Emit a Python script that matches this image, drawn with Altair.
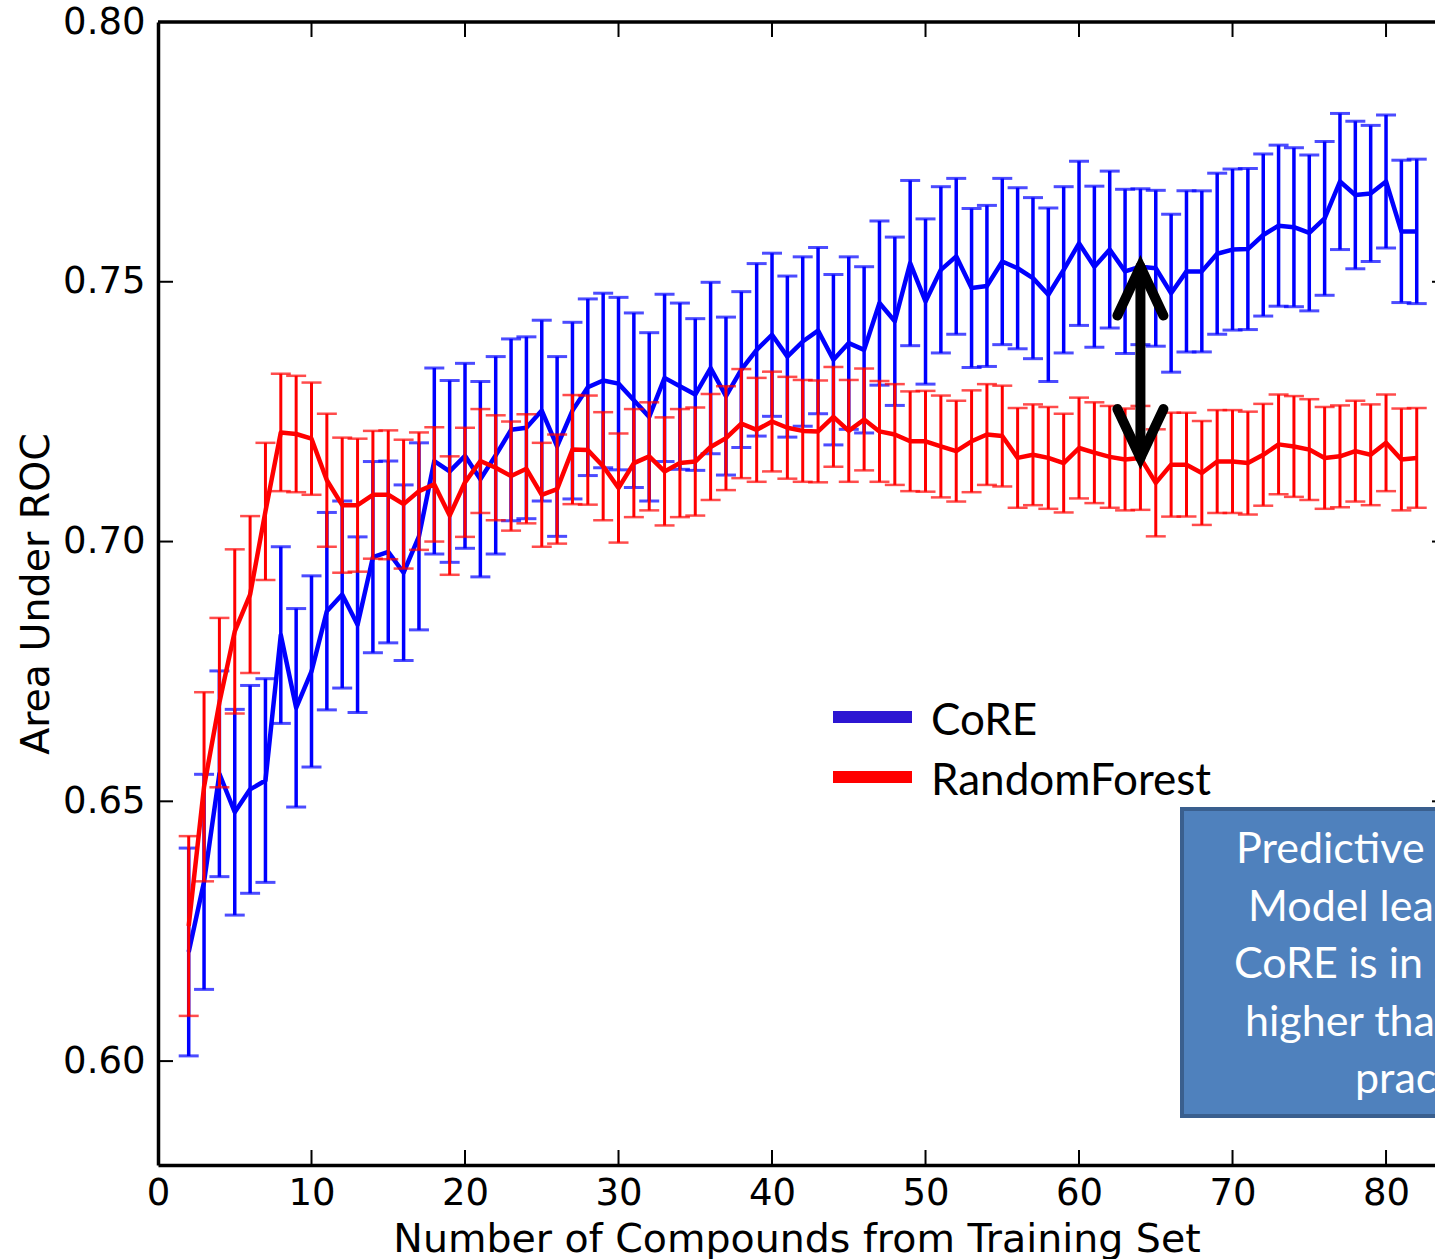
import altair as alt
import pandas as pd

# ---- data -------------------------------------------------------------
n_compounds = list(range(2, 83))

core_auc = [
    0.6210, 0.6345, 0.6553, 0.6479, 0.6523, 0.6540, 0.6820, 0.6680, 0.6750, 0.6866,
    0.6898, 0.6840, 0.6970, 0.6980, 0.6940, 0.7010, 0.7155, 0.7135, 0.7165, 0.7120,
    0.7166, 0.7215, 0.7219, 0.7252, 0.7183, 0.7252, 0.7297, 0.7310, 0.7304, 0.7272,
    0.7240, 0.7315, 0.7299, 0.7283, 0.7334, 0.7280, 0.7331, 0.7369, 0.7398, 0.7356,
    0.7385, 0.7406, 0.7350, 0.7382, 0.7369, 0.7459, 0.7424, 0.7536, 0.7462, 0.7523,
    0.7549, 0.7488, 0.7492, 0.7539, 0.7526, 0.7507, 0.7475, 0.7523, 0.7574, 0.7529,
    0.7562, 0.7520, 0.7529, 0.7526, 0.7478, 0.7520, 0.7520, 0.7554, 0.7562, 0.7563,
    0.7590, 0.7608, 0.7605, 0.7594, 0.7622, 0.7693, 0.7667, 0.7670, 0.7693, 0.7597,
    0.7597,
]
core_err = [
    0.0200, 0.0207, 0.0198, 0.0198, 0.0200, 0.0196, 0.0170, 0.0191, 0.0184, 0.0190,
    0.0180, 0.0169, 0.0184, 0.0175, 0.0169, 0.0180, 0.0179, 0.0175, 0.0178, 0.0188,
    0.0190, 0.0175, 0.0175, 0.0174, 0.0173, 0.0170, 0.0170, 0.0168, 0.0166, 0.0168,
    0.0162, 0.0161, 0.0160, 0.0146, 0.0165, 0.0152, 0.0150, 0.0166, 0.0157, 0.0155,
    0.0163, 0.0160, 0.0164, 0.0166, 0.0160, 0.0158, 0.0162, 0.0159, 0.0159, 0.0160,
    0.0150, 0.0153, 0.0155, 0.0160, 0.0155, 0.0155, 0.0167, 0.0160, 0.0158, 0.0155,
    0.0151, 0.0158, 0.0150, 0.0150, 0.0152, 0.0155, 0.0155, 0.0155, 0.0155, 0.0155,
    0.0156, 0.0155, 0.0153, 0.0150, 0.0148, 0.0131, 0.0142, 0.0131, 0.0128, 0.0137,
    0.0139,
]
rf_auc = [
    0.6260, 0.6528, 0.6690, 0.6827, 0.6898, 0.7058, 0.7210, 0.7207, 0.7198, 0.7118,
    0.7070, 0.7070, 0.7090, 0.7090, 0.7072, 0.7097, 0.7110, 0.7050, 0.7114, 0.7155,
    0.7142, 0.7126, 0.7140, 0.7090, 0.7101, 0.7177, 0.7176, 0.7145, 0.7103, 0.7151,
    0.7164, 0.7135, 0.7151, 0.7154, 0.7182, 0.7199, 0.7227, 0.7215, 0.7231, 0.7219,
    0.7213, 0.7212, 0.7240, 0.7213, 0.7235, 0.7212, 0.7206, 0.7193, 0.7193, 0.7183,
    0.7174, 0.7193, 0.7206, 0.7203, 0.7161, 0.7167, 0.7161, 0.7151, 0.7180, 0.7171,
    0.7163, 0.7158, 0.7161, 0.7113, 0.7148, 0.7148, 0.7132, 0.7154, 0.7154, 0.7151,
    0.7167, 0.7187, 0.7183, 0.7177, 0.7161, 0.7164, 0.7174, 0.7167, 0.7190, 0.7158,
    0.7161,
]
rf_err = [
    0.0173, 0.0182, 0.0163, 0.0158, 0.0151, 0.0132, 0.0113, 0.0112, 0.0108, 0.0128,
    0.0130, 0.0128, 0.0123, 0.0124, 0.0124, 0.0113, 0.0110, 0.0114, 0.0105, 0.0100,
    0.0101, 0.0105, 0.0105, 0.0100, 0.0105, 0.0105, 0.0105, 0.0104, 0.0105, 0.0104,
    0.0104, 0.0104, 0.0104, 0.0104, 0.0102, 0.0100, 0.0105, 0.0100, 0.0096, 0.0098,
    0.0098, 0.0098, 0.0096, 0.0098, 0.0098, 0.0097, 0.0097, 0.0096, 0.0097, 0.0098,
    0.0097, 0.0098, 0.0097, 0.0097, 0.0096, 0.0097, 0.0098, 0.0095, 0.0097, 0.0097,
    0.0098, 0.0098, 0.0100, 0.0103, 0.0100, 0.0100, 0.0100, 0.0099, 0.0099, 0.0099,
    0.0098, 0.0096, 0.0097, 0.0097, 0.0098, 0.0098, 0.0097, 0.0097, 0.0093, 0.0098,
    0.0096,
]

x_ticks = [0, 10, 20, 30, 40, 50, 60, 70, 80]
y_ticks = [0.60, 0.65, 0.70, 0.75, 0.80]

series_names = ["CoRE", "RandomForest"]
legend_colors = ["#2d16d2", "#ff0000"]
note_lines = ["Predictive performance of", "Model learned by", "CoRE is in general",
              "higher than RandomForest in", "practice"]

# ---- layout -----------------------------------------------------------
W, H = 1277, 1143
X_MAX = 83.19
Y_MIN, Y_MAX = 0.58, 0.80
TICK_LEN = 15
FONT = "DejaVu Sans"
NOTE_FONT = "Lato"

x_scale = alt.Scale(domain=[0, X_MAX], nice=False, zero=False)
y_scale = alt.Scale(domain=[Y_MIN, Y_MAX], nice=False, zero=False)

x_axis = alt.Axis(values=x_ticks, title="Number of Compounds from Training Set",
                  labelFont=FONT, labelFontSize=37, labelColor="black", labelPadding=10,
                  titleFont=FONT, titleFontSize=39.5, titleFontWeight="normal",
                  titleColor="black", titlePadding=9, ticks=False, grid=False,
                  domainColor="black", domainWidth=3.5, labelFlush=False)
y_axis = alt.Axis(values=y_ticks, format=".2f", title="Area Under ROC",
                  labelFont=FONT, labelFontSize=37, labelColor="black", labelPadding=13,
                  titleFont=FONT, titleFontSize=39.5, titleFontWeight="normal",
                  titleColor="black", titlePadding=6, ticks=False, grid=False,
                  domainColor="black", domainWidth=3.5, labelFlush=False)


def X(field):
    return alt.X(field, type="quantitative", scale=x_scale, axis=x_axis)


def Y(field):
    return alt.Y(field, type="quantitative", scale=y_scale, axis=y_axis)


def series_frame(auc, err):
    return pd.DataFrame({
        "n": n_compounds,
        "auc": auc,
        "lo": [a - e for a, e in zip(auc, err)],
        "hi": [a + e for a, e in zip(auc, err)],
    })


def series_layers(df, color, bar_width, cap_width):
    bars = alt.Chart(df).mark_rule(color=color, strokeWidth=bar_width).encode(
        x=X("n"), y=Y("lo"), y2="hi")
    caps = alt.Chart(df).transform_fold(["lo", "hi"], as_=["end", "val"]).mark_tick(
        orient="horizontal", color=color, size=20, thickness=cap_width).encode(
        x=X("n"), y=Y("val"))
    line = alt.Chart(df).mark_line(color=color, strokeWidth=4.5,
                                   strokeJoin="round").encode(x=X("n"), y=Y("auc"))
    return [bars, caps, line]


core_df = series_frame(core_auc, core_err)
rf_df = series_frame(rf_auc, rf_err)

layers = []
layers += series_layers(core_df, "#0000ff", 3.5, 3)
layers += series_layers(rf_df, "#ff0000", 3, 2.5)

# inward tick marks on every side of the frame
xt = pd.DataFrame({"t": x_ticks[1:]})
yt = pd.DataFrame({"t": y_ticks[:-1]})
tick_style = dict(color="black", strokeWidth=2)
layers.append(alt.Chart(xt).mark_rule(**tick_style).encode(
    x=X("t"), y=alt.value(H - TICK_LEN), y2=alt.value(H)))
layers.append(alt.Chart(xt).mark_rule(**tick_style).encode(
    x=X("t"), y=alt.value(0), y2=alt.value(TICK_LEN)))
layers.append(alt.Chart(yt).mark_rule(**tick_style).encode(
    y=Y("t"), x=alt.value(0), x2=alt.value(TICK_LEN)))
layers.append(alt.Chart(yt).mark_rule(**tick_style).encode(
    y=Y("t"), x=alt.value(W - 3), x2=alt.value(W)))
# top edge of the frame
layers.append(alt.Chart(pd.DataFrame({"k": [0]})).mark_rule(
    color="black", strokeWidth=3.5).encode(x=alt.value(0), x2=alt.value(W), y=alt.value(0)))

# double-headed arrow marking the gap between the two models at n = 64
gap_n = 64
i = n_compounds.index(gap_n)
top, bottom = core_auc[i], rf_auc[i]
dx, dy = 1.5, 0.0094
arrow_df = pd.DataFrame({
    "n": [gap_n, gap_n,
          gap_n - dx, gap_n, gap_n + dx,
          gap_n - dx, gap_n, gap_n + dx],
    "auc": [bottom, top,
            top - dy, top, top - dy,
            bottom + dy, bottom, bottom + dy],
    "part": ["shaft", "shaft", "head1", "head1", "head1", "head2", "head2", "head2"],
    "order": [0, 1, 0, 1, 2, 0, 1, 2],
})
layers.append(alt.Chart(arrow_df).mark_line(
    color="black", strokeWidth=10, strokeCap="round", strokeJoin="miter").encode(
    x=X("n"), y=Y("auc"), detail="part:N", order="order:Q"))

# legend
one = pd.DataFrame({"k": [0]})
for k, (name, col) in enumerate(zip(series_names, legend_colors)):
    yy = 695 + 60 * k
    layers.append(alt.Chart(one).mark_rule(color=col, strokeWidth=12).encode(
        x=alt.value(675), x2=alt.value(754), y=alt.value(yy)))
    layers.append(alt.Chart(one).mark_text(
        text=name, align="left", baseline="middle", font=NOTE_FONT, fontSize=44,
        color="black").encode(x=alt.value(773), y=alt.value(yy + 5)))

# callout box
layers.append(alt.Chart(one).mark_rect(
    fill="#4f81bd", stroke="#3a5f8e", strokeWidth=4).encode(
    x=alt.value(1024), x2=alt.value(1400), y=alt.value(787), y2=alt.value(1094)))
note_x = [1078, 1090, 1076, 1087, 1197]
for k, (txt, nx) in enumerate(zip(note_lines, note_x)):
    layers.append(alt.Chart(one).mark_text(
        text=txt, align="left", baseline="middle", font=NOTE_FONT, fontSize=43,
        color="white").encode(x=alt.value(nx), y=alt.value(828 + 57.5 * k)))

chart = alt.layer(*layers).properties(
    width=W, height=H,
    autosize=alt.AutoSizeParams(type="none"),
    padding={"left": 158, "top": 22, "right": 0, "bottom": 94},
    background="white",
).configure_view(strokeWidth=0)

chart.save("out.html", embed_options={"renderer": "svg", "actions": False})
